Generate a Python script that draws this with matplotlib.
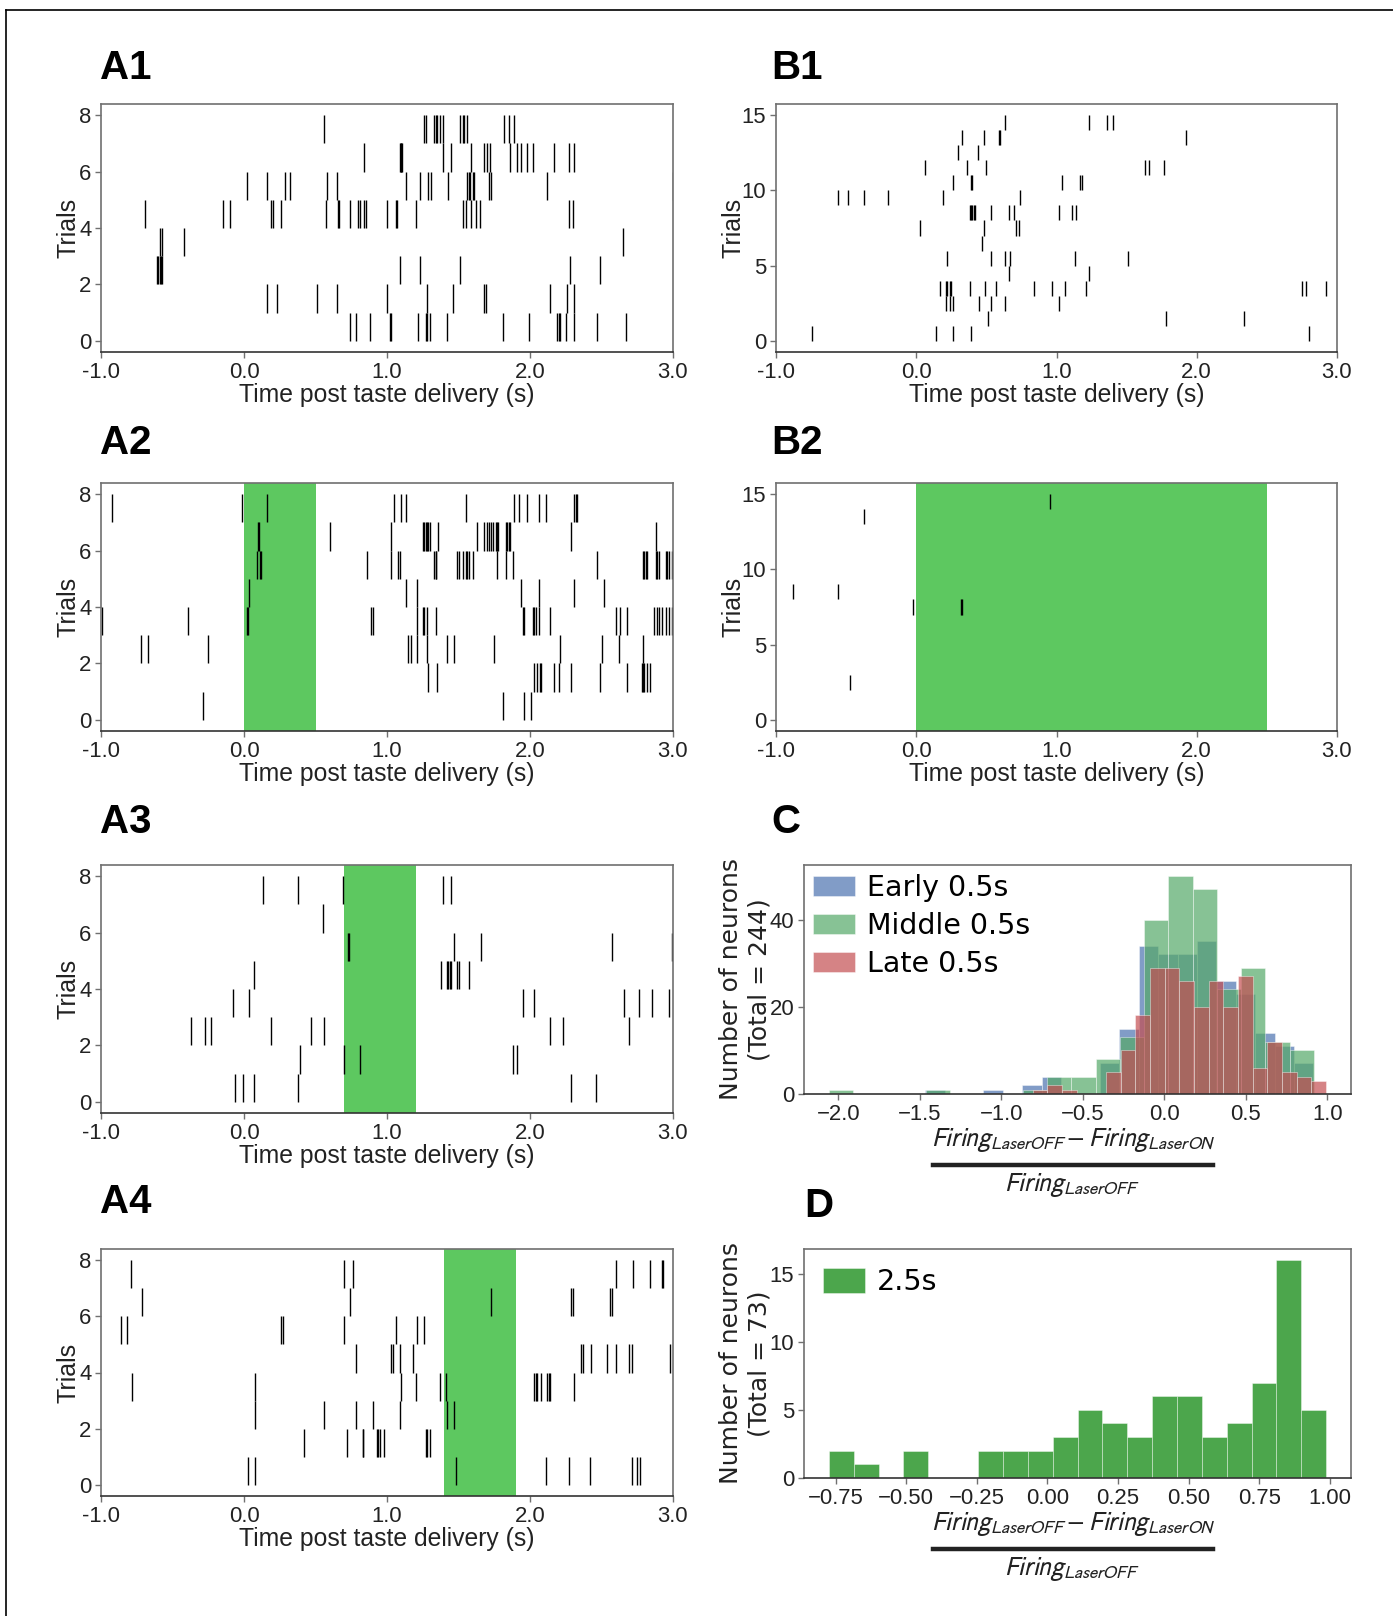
import numpy as np
import matplotlib
matplotlib.use('Agg')
import matplotlib.pyplot as plt
from matplotlib import font_manager as fm
from matplotlib.lines import Line2D

# ---------------- data ----------------
a1_trials = [
    [0.74, 0.78, 0.88, 1.02, 1.03, 1.22, 1.27, 1.28, 1.30, 1.42, 1.81, 1.99, 2.19, 2.20, 2.21, 2.25, 2.31, 2.47, 2.67],
    [0.16, 0.23, 0.51, 0.65, 1.00, 1.28, 1.46, 1.68, 1.69, 2.14, 2.26, 2.31],
    [-0.61, -0.60, -0.59, -0.58, -0.57, 1.09, 1.23, 1.51, 2.28, 2.49],
    [-0.59, -0.57, -0.42, 2.65],
    [-0.69, -0.145, -0.10, 0.19, 0.20, 0.26, 0.57, 0.66, 0.665, 0.74, 0.80, 0.81, 0.84, 0.85, 1.00, 1.06, 1.07,
     1.20, 1.53, 1.55, 1.59, 1.62, 1.65, 2.27, 2.30],
    [0.02, 0.16, 0.29, 0.32, 0.58, 0.65, 1.13, 1.23, 1.29, 1.31, 1.43, 1.56, 1.57, 1.58, 1.60, 1.61, 1.71, 1.73,
     2.12, 3.0],
    [0.84, 1.09, 1.095, 1.10, 1.105, 1.39, 1.45, 1.59, 1.68, 1.70, 1.72, 1.86, 1.91, 1.94, 1.98, 2.02, 2.17, 2.27, 2.31],
    [0.56, 1.26, 1.27, 1.33, 1.34, 1.35, 1.37, 1.39, 1.51, 1.53, 1.54, 1.56, 1.82, 1.85, 1.89],
]
a2_trials = [
    [-0.29, 1.81, 1.96, 2.01],
    [1.29, 1.35, 2.03, 2.05, 2.07, 2.08, 2.17, 2.20, 2.29, 2.49, 2.68, 2.78, 2.79, 2.80, 2.82, 2.84],
    [-0.72, -0.67, -0.25, 1.15, 1.17, 1.21, 1.28, 1.42, 1.47, 1.75, 2.21, 2.50, 2.62, 2.79],
    [-0.99, -0.39, 0.02, 0.03, 0.89, 0.90, 1.21, 1.25, 1.26, 1.28, 1.34, 1.95, 1.96, 2.02, 2.03, 2.04, 2.06, 2.14,
     2.60, 2.63, 2.68, 2.87, 2.89, 2.90, 2.92, 2.95, 2.97, 2.99],
    [0.035, 1.13, 1.21, 1.94, 2.06, 2.31, 2.52],
    [0.09, 0.11, 0.12, 0.86, 1.03, 1.08, 1.09, 1.33, 1.34, 1.345, 1.49, 1.50, 1.53, 1.55, 1.56, 1.57, 1.60, 1.77,
     1.83, 1.88, 2.47, 2.79, 2.80, 2.81, 2.82, 2.88, 2.89, 2.90, 2.95, 2.96, 2.97, 2.99],
    [0.10, 0.105, 0.60, 1.03, 1.25, 1.26, 1.27, 1.28, 1.29, 1.30, 1.36, 1.63, 1.68, 1.70, 1.71, 1.73, 1.74, 1.76,
     1.77, 1.775, 1.83, 1.84, 1.85, 1.86, 2.29, 2.88],
    [-0.92, -0.016, 0.16, 1.05, 1.10, 1.13, 1.55, 1.89, 1.92, 1.98, 2.06, 2.11, 2.31, 2.32, 2.33],
]
a3_trials = [
    [-0.06, -0.01, 0.07, 0.38, 2.29, 2.46],
    [0.39, 0.70, 0.81, 1.88, 1.91],
    [-0.37, -0.27, -0.23, 0.19, 0.47, 0.56, 2.14, 2.23, 2.69],
    [-0.08, 0.035, 1.95, 2.03, 2.66, 2.76, 2.85, 2.97],
    [0.07, 1.375, 1.42, 1.43, 1.44, 1.45, 1.49, 1.50, 1.57],
    [0.73, 0.735, 1.47, 1.66, 2.57, 2.99],
    [0.55],
    [0.13, 0.38, 0.69, 1.39, 1.45],
]
a4_trials = [
    [0.03, 0.08, 1.48, 2.11, 2.27, 2.42, 2.71, 2.75, 2.77],
    [0.42, 0.72, 0.83, 0.835, 0.93, 0.94, 0.95, 0.98, 1.27, 1.28, 1.30],
    [0.075, 0.56, 0.78, 0.90, 1.09, 1.42, 1.47],
    [-0.78, 0.075, 1.10, 1.20, 1.37, 1.41, 2.03, 2.04, 2.05, 2.08, 2.12, 2.13, 2.14, 2.31],
    [0.78, 1.03, 1.04, 1.09, 1.18, 2.36, 2.37, 2.43, 2.54, 2.60, 2.69, 2.71, 2.98],
    [-0.86, -0.82, 0.26, 0.27, 0.70, 1.06, 1.21, 1.26],
    [-0.71, 0.74, 1.73, 2.29, 2.30, 2.56, 2.57],
    [-0.79, 0.70, 0.76, 2.60, 2.72, 2.84, 2.92, 2.93],
]
b1_trials = [
    [-0.74, 0.14, 0.26, 0.39, 2.80],
    [0.51, 1.78, 2.34],
    [0.21, 0.24, 0.26, 0.45, 0.53, 0.63, 1.02],
    [0.17, 0.21, 0.22, 0.24, 0.25, 0.38, 0.49, 0.57, 0.84, 0.97, 1.06, 1.21, 2.75, 2.78, 2.92],
    [0.66, 1.23],
    [0.22, 0.53, 0.63, 0.67, 1.13, 1.51],
    [0.47],
    [0.03, 0.48, 0.71, 0.73],
    [0.38, 0.39, 0.40, 0.41, 0.42, 0.53, 0.66, 0.70, 1.02, 1.11, 1.14],
    [-0.56, -0.49, -0.375, -0.20, 0.19, 0.74],
    [0.26, 0.39, 0.395, 1.04, 1.17, 1.18],
    [0.06, 0.36, 0.50, 1.63, 1.66, 1.77],
    [0.30, 0.44],
    [0.325, 0.48, 0.59, 0.60, 1.92],
    [0.63, 1.23, 1.36, 1.40],
]
b2_trials = [
    [], [], [-0.47], [], [], [], [], [-0.02, 0.32, 0.325], [-0.88, -0.56],
    [], [], [], [], [-0.37], [0.955],
]
laser_a2 = (0.0, 0.5)
laser_a3 = (0.7, 1.2)
laser_a4 = (1.4, 1.9)
laser_b2 = (0.0, 2.5)

raster_xticks = [-1, 0, 1, 2, 3]
raster_xticklabels = ['-1.0', '0.0', '1.0', '2.0', '3.0']

# histogram C (20 bins each; range = first/last bin edge)
early_range = (-1.467, 0.914)
early_counts = [1, 0, 0, 1, 0, 2, 4, 0, 0, 7, 15, 34, 32, 32, 35, 26, 23, 14, 11, 7]
middle_range = (-2.058, 0.916)
middle_counts = [1, 0, 0, 0, 1, 0, 0, 0, 1, 4, 4, 8, 13, 40, 50, 47, 24, 29, 12, 10]
late_range = (-0.807, 0.992)
late_counts = [1, 2, 1, 0, 0, 5, 10, 18, 29, 29, 26, 20, 26, 20, 27, 6, 12, 5, 4, 3]
c_labels = ['Early 0.5s', 'Middle 0.5s', 'Late 0.5s']

# histogram D
d_range = (-0.774, 0.987)
d_counts = [2, 1, 0, 2, 0, 0, 2, 2, 2, 3, 5, 4, 3, 6, 6, 3, 4, 7, 16, 5]
d_label = '2.5s'

num_text = r'$Firing_{LaserOFF} - Firing_{LaserON}$'
den_text = r'$Firing_{LaserOFF}$'

# ---------------- fonts ----------------
names = {f.name for f in fm.fontManager.ttflist}
NARROW = 'Liberation Sans Narrow' in names
if NARROW:
    NFONT = 'Liberation Sans Narrow'
    ns = 1.0
    plt.rcParams['mathtext.fontset'] = 'custom'
    plt.rcParams['mathtext.it'] = 'Liberation Sans Narrow:italic'
    plt.rcParams['mathtext.rm'] = 'Liberation Sans Narrow'
    plt.rcParams['mathtext.sf'] = 'Liberation Sans Narrow'
    plt.rcParams['mathtext.bf'] = 'Liberation Sans Narrow:bold'
    math_size = 20
else:
    NFONT = 'Liberation Sans'
    ns = 0.86
    plt.rcParams['mathtext.fontset'] = 'stixsans'
    math_size = 18.6

TICK = 18.5 * ns
XLAB = 20.7 * ns
SPINE = '#707070'
GREEN_SPAN = '#5dc860'

W, H = 1393, 1616
fig = plt.figure(figsize=(W / 100, H / 100), dpi=100)


def add_ax(l, t, r, b):
    return fig.add_axes([l / W, 1 - b / H, (r - l) / W, (b - t) / H])


def style_spines(ax):
    for s in ax.spines.values():
        s.set_color(SPINE)
        s.set_linewidth(1.2)
    ax.spines['bottom'].set_color('#333333')
    ax.tick_params(axis='both', direction='out', length=4, width=1, color=SPINE, pad=3)


def raster(ax, trials, span=None, yticks=(0, 2, 4, 6, 8), ylab_x=-0.036):
    n = len(trials)
    if span is not None:
        ax.axvspan(span[0], span[1], color=GREEN_SPAN, lw=0, zorder=0)
    for i, t in enumerate(trials):
        if len(t):
            ax.vlines(t, i, i + 1, color='black', lw=1.0, zorder=2)
    ax.set_xlim(-1, 3)
    ax.set_ylim(-0.05 * n, 1.05 * n)
    ax.set_xticks(raster_xticks)
    ax.set_xticklabels(raster_xticklabels, fontsize=TICK, family=NFONT, color='#222222')
    ax.set_yticks(list(yticks))
    ax.set_yticklabels([str(v) for v in yticks], fontsize=TICK, family=NFONT, color='#222222')
    ax.set_xlabel('Time post taste delivery (s)', fontsize=XLAB, family=NFONT, color='#222222')
    ax.xaxis.set_label_coords(0.5, -0.125)
    ax.xaxis.label.set_va('top')
    ax.set_ylabel('Trials', fontsize=18, family='Liberation Sans', color='#222222')
    ax.yaxis.set_label_coords(ylab_x, 0.5)
    style_spines(ax)


def frac_label(ax):
    ax.text(0.492, -0.14, num_text, transform=ax.transAxes, ha='center', va='top',
            fontsize=math_size, color='#222222')
    ax.add_artist(Line2D([0.236, 0.748], [-0.31, -0.31], transform=ax.transAxes,
                         color='#222222', lw=3.2, clip_on=False))
    ax.text(0.49, -0.335, den_text, transform=ax.transAxes, ha='center', va='top',
            fontsize=math_size, color='#222222')


# positions (pixels: left, top, right, bottom)
axA1 = add_ax(101, 104, 673, 352)
axA2 = add_ax(101, 483, 673, 731)
axA3 = add_ax(101, 865, 673, 1113)
axA4 = add_ax(101, 1249, 673, 1496)
axB1 = add_ax(776, 104, 1337, 352)
axB2 = add_ax(776, 483, 1337, 731)
axC = add_ax(804, 865, 1351, 1094)
axD = add_ax(804, 1249, 1351, 1478)

raster(axA1, a1_trials)
raster(axA2, a2_trials, laser_a2)
raster(axA3, a3_trials, laser_a3)
raster(axA4, a4_trials, laser_a4)
raster(axB1, b1_trials, yticks=(0, 5, 10, 15), ylab_x=-0.054)
raster(axB2, b2_trials, laser_b2, yticks=(0, 5, 10, 15), ylab_x=-0.054)

# ---------------- C ----------------
c_colors = ['#4C72B0', '#55A868', '#C44E52']
for rng, cnt, col, lab in zip([early_range, middle_range, late_range],
                              [early_counts, middle_counts, late_counts], c_colors, c_labels):
    edges = np.linspace(rng[0], rng[1], len(cnt) + 1)
    centers = 0.5 * (edges[:-1] + edges[1:])
    axC.hist(centers, bins=edges, weights=cnt, color=col, alpha=0.7,
             edgecolor='white', linewidth=0.4, label=lab)
axC.set_xticks([-2.0, -1.5, -1.0, -0.5, 0.0, 0.5, 1.0])
axC.set_yticks([0, 20, 40])
for lab in axC.get_xticklabels() + axC.get_yticklabels():
    lab.set_family(NFONT)
    lab.set_fontsize(TICK)
    lab.set_color('#222222')
axC.set_ylabel('Number of neurons\n(Total = 244)', fontsize=18, family='DejaVu Sans', color='#222222')
axC.yaxis.set_label_coords(-0.06, 0.5)
frac_label(axC)
legC = axC.legend(loc='upper left', frameon=False, prop={'family': 'DejaVu Sans', 'size': 20.5},
                  handlelength=1.5, handleheight=0.7, labelspacing=0.36, borderaxespad=0.05,
                  borderpad=0.25, handletextpad=0.4)
style_spines(axC)

# ---------------- D ----------------
d_edges = np.linspace(d_range[0], d_range[1], len(d_counts) + 1)
d_centers = 0.5 * (d_edges[:-1] + d_edges[1:])
axD.hist(d_centers, bins=d_edges, weights=d_counts, color='green', alpha=0.7,
         edgecolor='white', linewidth=0.4, label=d_label)
axD.set_xticks([-0.75, -0.5, -0.25, 0.0, 0.25, 0.5, 0.75, 1.0])
axD.set_yticks([0, 5, 10, 15])
for lab in axD.get_xticklabels() + axD.get_yticklabels():
    lab.set_family(NFONT)
    lab.set_fontsize(TICK)
    lab.set_color('#222222')
axD.set_ylabel('Number of neurons\n(Total = 73)', fontsize=18, family='DejaVu Sans', color='#222222')
axD.yaxis.set_label_coords(-0.06, 0.5)
frac_label(axD)
axD.legend(loc='upper left', frameon=False, prop={'family': 'DejaVu Sans', 'size': 20.5},
           handlelength=1.5, handleheight=1.0, borderaxespad=0.25, borderpad=0.4, handletextpad=0.4)
style_spines(axD)

# ---------------- panel labels ----------------
panel_labels = [('A1', 100, 79), ('B1', 771, 79), ('A2', 100, 454), ('B2', 771, 454),
                ('A3', 100, 833), ('C', 771, 833), ('A4', 100, 1213), ('D', 804, 1217)]
for txt, x, y in panel_labels:
    fig.text(x / W, 1 - y / H, txt, fontsize=29, fontweight='bold', family='Liberation Sans',
             ha='left', va='baseline', color='black')

# figure frame (top and left edges)
fig.add_artist(Line2D([6 / W, 1.0], [1 - 10 / H, 1 - 10 / H], transform=fig.transFigure, color='black', lw=1.2))
fig.add_artist(Line2D([6 / W, 6 / W], [0.0, 1 - 10 / H], transform=fig.transFigure, color='black', lw=1.2))

fig.savefig('out.png', dpi=100, facecolor='white')
